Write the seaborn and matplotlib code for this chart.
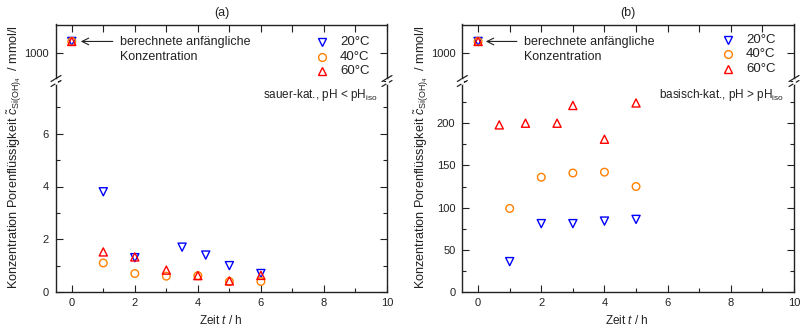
import numpy as np
import pandas as pd
import matplotlib
matplotlib.use("Agg")
import matplotlib.pyplot as plt
from matplotlib.lines import Line2D
import seaborn as sns

# ---------------- data ----------------
labels = ["20°C", "40°C", "60°C"]
colors = ["#0000FF", "#FF8000", "#FF0000"]
markers = ["v", "o", "^"]

init_conc = 1040  # berechnete anfängliche Konzentration (mmol/l)

# (a) sauer-katalysiert
a_t20 = [1, 2, 3.5, 4.25, 5, 6]
a_c20 = [3.8, 1.3, 1.7, 1.4, 1.0, 0.7]
a_t40 = [1, 2, 3, 4, 5, 6]
a_c40 = [1.1, 0.7, 0.6, 0.62, 0.4, 0.4]
a_t60 = [1, 2, 3, 4, 5, 6]
a_c60 = [1.52, 1.33, 0.83, 0.62, 0.42, 0.63]

# (b) basisch-katalysiert
b_t20 = [1, 2, 3, 4, 5]
b_c20 = [36, 81, 81, 84, 86]
b_t40 = [1, 2, 3, 4, 5]
b_c40 = [99, 136, 141, 142, 125]
b_t60 = [0.67, 1.5, 2.5, 3, 4, 5]
b_c60 = [198, 200, 200, 221, 181, 224]

# ---------------- style ----------------
sns.set_theme(style="ticks")
plt.rcParams["font.family"] = ["Liberation Sans", "DejaVu Sans"]
plt.rcParams["mathtext.fontset"] = "custom"
plt.rcParams["mathtext.rm"] = "Liberation Sans"
plt.rcParams["mathtext.it"] = "Liberation Sans:italic"
plt.rcParams["mathtext.bf"] = "Liberation Sans:bold"

W, H = 801, 330
fig = plt.figure(figsize=(W / 100, H / 100), dpi=100)


def fx(px):
    return px / W


def fy(py):
    return 1 - py / H


SPINE = "#222222"
MSIZE = {"v": 34, "o": 30, "^": 34}


def style_axis(ax):
    for s in ax.spines.values():
        s.set_color(SPINE)
        s.set_linewidth(1.0)
    ax.tick_params(which="both", direction="in", color=SPINE, width=0.8,
                   labelsize=8, labelcolor="#222222")
    ax.tick_params(which="major", length=5)
    ax.tick_params(which="minor", length=3)
    ax.set_facecolor("white")


def make_panel(left_px, right_px, data, ylim_low, major_step, minor_step,
               title, note, arrow_tail_px, text_px, leg_px, leg_rows):
    x0 = fx(left_px)
    w = fx(right_px - left_px)
    low = fig.add_axes([x0, fy(292), w, (292 - 81) / H])
    up = fig.add_axes([x0, fy(81), w, (81 - 24.5) / H])

    for ax in (low, up):
        style_axis(ax)
        ax.set_xlim(-0.5, 10)
        ax.set_xticks(np.arange(0, 11, 2))
        ax.set_xticks(np.arange(1, 11, 2), minor=True)

    # lower axes
    low.set_ylim(*ylim_low)
    low.set_yticks(np.arange(0, ylim_low[1] - 1e-9, major_step))
    low.set_yticks(np.arange(minor_step, ylim_low[1] + 1e-9, minor_step), minor=True)
    low.spines["top"].set_visible(False)
    low.tick_params(which="both", top=False, right=True, bottom=True, left=True)
    low.tick_params(axis="x", pad=4)
    low.tick_params(axis="y", pad=5)

    # upper axes
    up.set_ylim(900, 1100)
    up.set_yticks([1000])
    up.set_yticks([], minor=True)
    up.spines["bottom"].set_visible(False)
    up.tick_params(which="both", bottom=False, labelbottom=False, top=True,
                   right=True, left=True)
    up.tick_params(axis="x", which="minor", length=5)
    up.tick_params(axis="y", pad=5)

    for (t, c), col, mk, lab in zip(data, colors, markers, labels):
        df = pd.DataFrame({"t": t, "c": c})
        sns.scatterplot(data=df, x="t", y="c", ax=low, marker=mk, s=MSIZE[mk],
                        facecolor="none", edgecolor=col, linewidth=1.0,
                        legend=False, zorder=3)
        sns.scatterplot(x=[0], y=[init_conc], ax=up, marker=mk, s=MSIZE[mk],
                        facecolor="none", edgecolor=col, linewidth=1.0,
                        legend=False, zorder=3)
    for ax in (low, up):
        ax.set_xlabel("")
        ax.set_ylabel("")

    # annotation
    xpx = lambda p: (p - (left_px + 16)) / 31.5
    up.annotate("", xy=(xpx(arrow_tail_px[1]), init_conc),
                xytext=(xpx(arrow_tail_px[0]), init_conc),
                arrowprops=dict(arrowstyle="->", color="#222222", lw=0.8,
                                shrinkA=0, shrinkB=0))
    fig.text(fx(text_px), fy(42), "berechnete anfängliche", fontsize=9,
             ha="left", va="center", color="#222222")
    fig.text(fx(text_px), fy(57), "Konzentration", fontsize=9,
             ha="left", va="center", color="#222222")

    # legend entries
    for i, (col, mk, lab) in enumerate(zip(colors, markers, labels)):
        fig.add_artist(Line2D([fx(leg_px)], [fy(leg_rows[i])], marker=mk,
                              ms=5.6 if mk == "o" else 6.0, mfc="none",
                              mec=col, mew=1.0,
                              ls="none", transform=fig.transFigure))
        fig.text(fx(leg_px + 18), fy(leg_rows[i]), lab, fontsize=9.5,
                 ha="left", va="center", color="#222222")

    # note text
    low.text(0.97, 0.935, note, transform=low.transAxes, ha="right",
             va="center", fontsize=8.5, color="#222222")

    # titles and labels
    cx = (left_px + right_px) / 2
    fig.text(fx(cx), fy(13), title, fontsize=9, ha="center", va="center",
             color="#222222")
    fig.text(fx(cx - 1), fy(321), r"Zeit $\mathit{t}$ / h", fontsize=8.5,
             ha="center", va="center", color="#222222")
    fig.text(fx(left_px - 41), 0.523,
             r"Konzentration Porenflüssigkeit $\tilde{c}_{\mathrm{Si(OH)_4}}$  / mmol/l",
             fontsize=9.1, rotation=90, ha="center", va="center",
             color="#222222")

    # axis break marks
    for xp in (left_px, right_px):
        for yp in (78.5, 83.5):
            fig.add_artist(Line2D([fx(xp - 5), fx(xp + 5)],
                                  [fy(yp + 3), fy(yp - 3)],
                                  color=SPINE, lw=0.9,
                                  transform=fig.transFigure))
        fig.add_artist(Line2D([fx(xp), fx(xp)], [fy(79.5), fy(82.5)],
                              color="white", lw=2, transform=fig.transFigure))
    return low, up


make_panel(56, 387,
           [(a_t20, a_c20), (a_t40, a_c40), (a_t60, a_c60)],
           (0, 8), 2, 1, "(a)",
           r"sauer-kat., pH < pH$_{\mathrm{iso}}$",
           (113, 81), 120, 322, [42, 56.5, 71])

make_panel(462.3, 794,
           [(b_t20, b_c20), (b_t40, b_c40), (b_t60, b_c60)],
           (0, 250), 50, 25, "(b)",
           r"basisch-kat., pH > pH$_{\mathrm{iso}}$",
           (517, 486), 524, 728, [40, 54, 69])

fig.savefig("out.png", dpi=100)
